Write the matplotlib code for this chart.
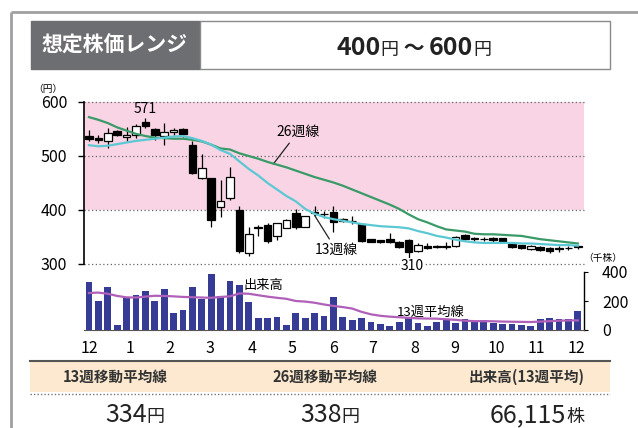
import matplotlib
matplotlib.use("Agg")
import matplotlib.pyplot as plt
from matplotlib.patches import Rectangle

plt.rcParams["font.family"] = ["Noto Sans CJK JP", "DejaVu Sans"]

# weekly candles (yen)
opens = [537, 533, 527, 547, 536, 539, 563, 550, 537, 544, 550, 521, 460, 460, 405, 422,
         400, 321, 366, 373, 351, 367, 395, 369, 395, 393, 397, 384, 380, 374, 346, 344,
         347, 341, 345, 324, 333, 333, 331, 334, 354, 346, 347, 348, 348, 337, 335, 327,
         332, 330, 328, 329, 331]
highs = [548, 539, 551, 549, 553, 560, 571, 551, 562, 552, 551, 528, 504, 460, 455, 480,
         408, 369, 372, 375, 376, 383, 402, 389, 407, 398, 407, 386, 388, 375, 347, 345,
         357, 342, 347, 338, 338, 336, 340, 352, 356, 350, 350, 350, 349, 338, 336, 335,
         333, 331, 334, 333, 336]
lows = [528, 525, 515, 537, 528, 533, 552, 529, 521, 538, 535, 467, 458, 368, 387, 419,
        320, 314, 352, 338, 345, 366, 364, 368, 388, 385, 360, 377, 374, 341, 340, 338,
        338, 330, 310, 323, 328, 329, 328, 332, 344, 343, 342, 341, 340, 330, 328, 326,
        324, 320, 322, 326, 328]
closes = [532, 529, 543, 539, 539, 555, 555, 538, 545, 549, 541, 468, 477, 381, 417, 462,
          324, 356, 369, 343, 375, 382, 369, 388, 397, 392, 378, 379, 379, 342, 341, 340,
          340, 331, 322, 336, 330, 331, 334, 350, 346, 349, 346, 344, 341, 332, 330, 334,
          326, 324, 329, 330, 333]

ma13 = [520, 518, 519, 522, 525, 528, 530, 532, 534, 536, 537, 533, 528, 521, 511, 504,
        490, 476, 464, 450, 438, 426, 416, 402, 393, 387, 383, 380, 377, 374, 372, 370,
        369, 368, 366, 361, 357, 352, 349, 345, 342, 340, 339, 339, 339, 339, 338, 338,
        337, 336, 335, 335, 334]
ma26 = [572, 567, 561, 553, 547, 541, 537, 534, 533, 532, 532, 530, 527, 521, 514, 512,
        505, 500, 495, 489, 484, 479, 473, 467, 461, 456, 451, 445, 438, 431, 424, 417,
        410, 402, 392, 383, 377, 370, 364, 362, 360, 356, 355, 355, 354, 353, 352, 349,
        346, 344, 342, 340, 338]

# volume (thousand shares)
volume = [330, 198, 295, 34, 222, 243, 266, 198, 286, 114, 136, 297, 216, 384, 234, 338,
          313, 193, 84, 86, 93, 34, 120, 80, 114, 95, 227, 91, 68, 80, 57, 43,
          25, 52, 84, 48, 30, 52, 68, 48, 75, 57, 66, 48, 39, 39, 32, 27,
          77, 84, 73, 73, 132]
vol_ma13 = [255, 258, 250, 235, 225, 224, 230, 236, 235, 232, 228, 226, 224, 222, 228, 232,
            252, 250, 240, 230, 222, 215, 200, 196, 188, 176, 166, 158, 148, 125, 108, 98,
            92, 88, 84, 80, 79, 78, 74, 70, 64, 61, 61, 60, 58, 57, 56, 55,
            58, 61, 64, 66, 66]

month_labels = ["12", "1", "2", "3", "4", "5", "6", "7", "8", "9", "10", "11", "12"]
month_pos = [0, 4.4, 8.6, 12.9, 17.3, 21.6, 26.0, 30.2, 34.6, 38.9, 43.3, 47.6, 51.9]

W, H = 638, 428
fig = plt.figure(figsize=(W / 100, H / 100), dpi=100)
fig.patch.set_facecolor("white")


def px_axes(left, top, right, bottom, **kw):
    return fig.add_axes([left / W, 1 - bottom / H, (right - left) / W, (bottom - top) / H], **kw)


bg = px_axes(0, 0, W, H)
bg.set_xlim(0, W)
bg.set_ylim(H, 0)
bg.axis("off")


def mixed_text(cx, y, pieces, color="#222222"):
    renderer = fig.canvas.get_renderer()
    items = [bg.text(0, y, s, fontsize=size, fontweight=weight, color=color,
                     va="baseline", ha="left") for s, size, weight in pieces]
    widths = [t.get_window_extent(renderer).width for t in items]
    x = cx - sum(widths) / 2
    for t, w in zip(items, widths):
        t.set_x(x)
        x += w


# outer frame
bg.plot([11, W], [12, 12], color="#a0a0a0", lw=2, solid_capstyle="butt")
bg.plot([11, 11], [12, H], color="#a0a0a0", lw=2, solid_capstyle="butt")

# header
bg.add_patch(Rectangle((31, 21), 169, 48, facecolor="#6d6e71", edgecolor="#6d6e71", lw=1))
bg.add_patch(Rectangle((200, 21), 410, 48, facecolor="white", edgecolor="#8a8a8a", lw=1))
bg.text(115, 45, "想定株価レンジ", color="white", fontsize=15, fontweight="bold",
        ha="center", va="center")
mixed_text(414, 55, [("400", 18, "bold"), ("円", 13, "normal"), (" 〜 ", 15, "bold"),
                     ("600", 18, "bold"), ("円", 13, "normal")])

bg.text(48, 89, "（円）", fontsize=7, ha="center", va="center")
bg.text(603, 258, "（千株）", fontsize=7, ha="center", va="center")

# bottom table
bg.add_patch(Rectangle((30, 361), 580, 31, facecolor="#fce9cf", edgecolor="none"))
bg.plot([30, 610], [361, 361], color="#555555", lw=1.5)
bg.plot([30, 610], [394, 394], color="#777777", lw=1, ls=(0, (1, 1.5)))
for cx, s in [(115, "13週移動平均線"), (325, "26週移動平均線"), (527, "出来高(13週平均)")]:
    bg.text(cx, 377, s, fontsize=10.5, fontweight="bold", color="#333333",
            ha="center", va="center")
mixed_text(135, 422, [("334", 18, "normal"), ("円", 13, "normal")])
mixed_text(330, 422, [("338", 18, "normal"), ("円", 13, "normal")])
mixed_text(537, 422, [("66,115", 18, "normal"), ("株", 13, "normal")])

# price chart
x_lim = (-0.53, 52.66)
ax = px_axes(84, 102, 584, 264)
ax.set_facecolor("none")
ax.set_xlim(*x_lim)
ax.set_ylim(300, 600)
ax.axhspan(400, 600, color="#f8d4e4", lw=0, zorder=0)
for level in (300, 400, 500, 600):
    ax.axhline(level, color="#666666", lw=0.9, ls=(0, (1, 2)), clip_on=False, zorder=1)

for i, (o, h, l, c) in enumerate(zip(opens, highs, lows, closes)):
    face = "white" if c >= o else "black"
    ax.vlines(i, l, h, color="black", lw=0.9, zorder=3)
    ax.bar(i, max(abs(c - o), 1.2), bottom=min(o, c), width=0.82, color=face,
           edgecolor="black", lw=0.9, zorder=4)

weeks = list(range(len(closes)))
ax.plot(weeks, ma26, color="#3a9a68", lw=1.6, zorder=5)
ax.plot(weeks, ma13, color="#5cc8d4", lw=1.6, zorder=5)

ax.annotate("571", xy=(6, 571), xytext=(0, 1), textcoords="offset points",
            ha="center", va="bottom", fontsize=10)
ax.annotate("26週線", xy=(19.6, 485), xytext=(22.2, 544), ha="center", va="center",
            fontsize=10, arrowprops=dict(arrowstyle="-", lw=0.9, color="#222222",
                                         shrinkA=1, shrinkB=0))
ax.annotate("13週線", xy=(24.0, 390), xytext=(26.3, 326), ha="center", va="center",
            fontsize=10, arrowprops=dict(arrowstyle="-", lw=0.9, color="#222222",
                                         shrinkA=1, shrinkB=0))
ax.text(34.4, 296, "310", ha="center", va="center", fontsize=10, zorder=6,
        bbox=dict(facecolor="white", edgecolor="none", pad=0.5))

for side in ("top", "right", "bottom"):
    ax.spines[side].set_visible(False)
ax.spines["left"].set_linewidth(1.2)
ax.set_xticks([])
ax.set_yticks([300, 400, 500, 600])
ax.tick_params(axis="y", length=4, width=1, labelsize=11.5, pad=8)

# volume chart
vx = px_axes(84, 272, 584, 330)
vx.set_facecolor("none")
vx.set_xlim(*x_lim)
vx.set_ylim(0, 400)
vx.bar(weeks, volume, width=0.72, color="#363c96", zorder=2)
vx.plot(weeks, vol_ma13, color="#b060b8", lw=1.6, zorder=3)
vx.text(16.4, 310, "出来高", fontsize=9.5, ha="left", va="center")
vx.text(36.3, 124, "13週平均線", fontsize=9.5, ha="center", va="center")

vx.spines["top"].set_visible(False)
vx.spines["left"].set_visible(False)
vx.spines["bottom"].set_color("#555555")
vx.spines["right"].set_linewidth(1)
vx.yaxis.tick_right()
vx.set_yticks([0, 200, 400])
vx.tick_params(axis="y", length=3, labelsize=11.5, pad=10)
vx.set_xticks(month_pos)
vx.set_xticklabels(month_labels)
vx.tick_params(axis="x", length=0, labelsize=11.5, pad=7)

fig.savefig("out.png", dpi=100)
